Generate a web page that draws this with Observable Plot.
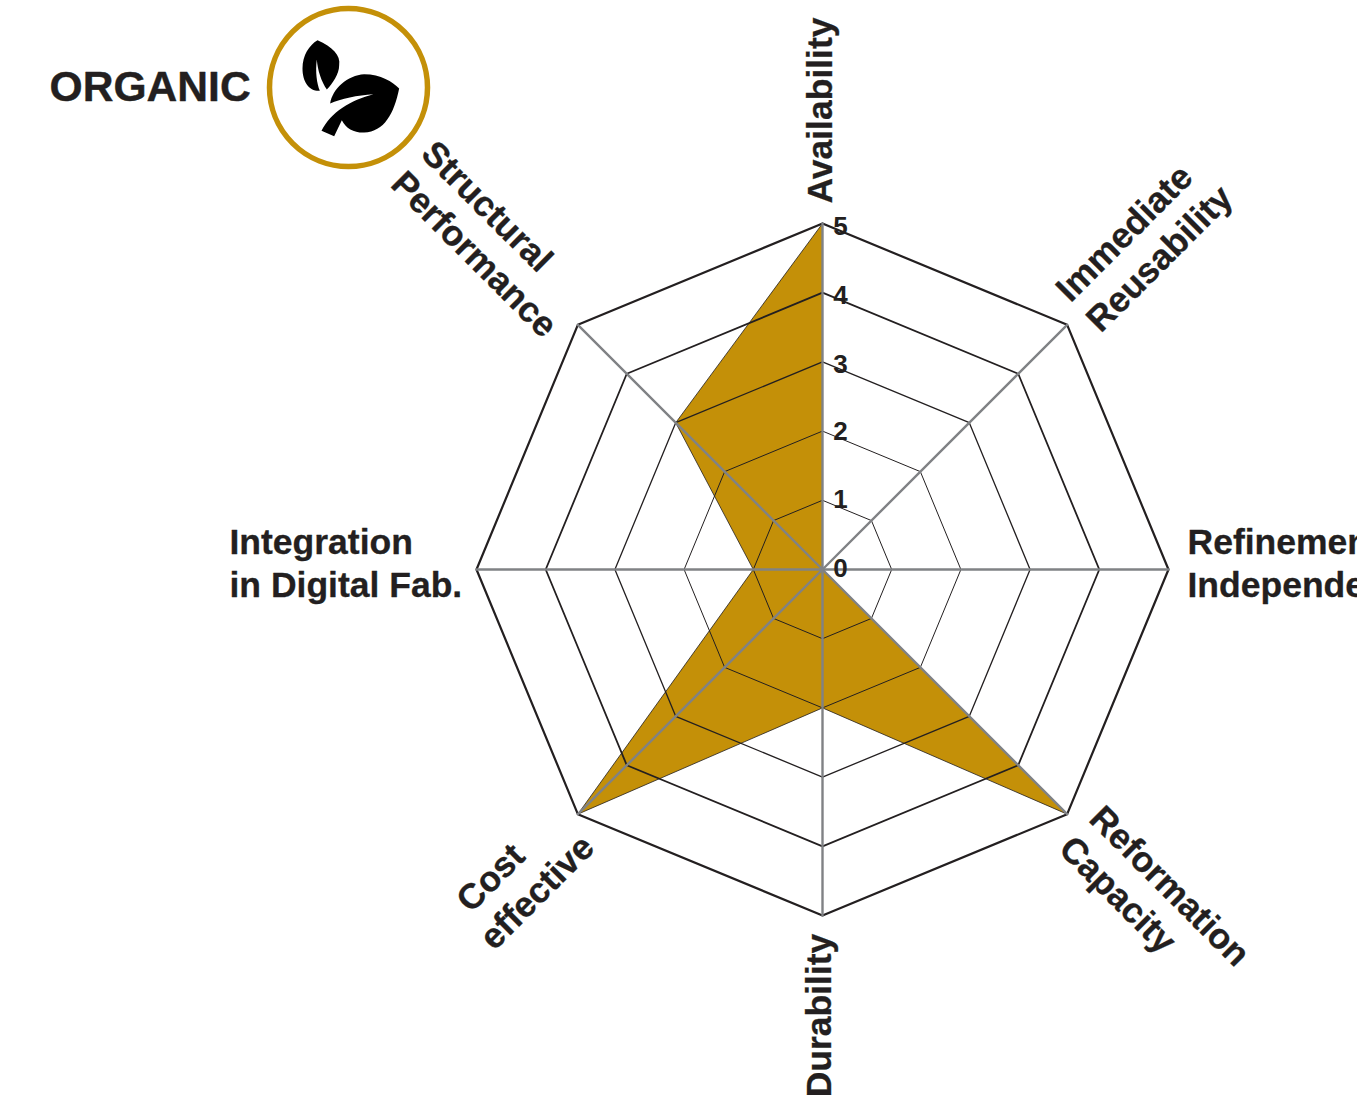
<!DOCTYPE html>
<html><head><meta charset="utf-8">
<script src="https://cdn.jsdelivr.net/npm/d3@7"></script>
<script src="https://cdn.jsdelivr.net/npm/@observablehq/plot@0.6"></script>
<style>html,body{margin:0;padding:0;background:#fff;overflow:hidden}svg{display:block}</style>
</head><body><div id="chart"></div>
<script>
const criteria = ["Availability","Immediate\nReusability","Refinement\nIndependence","Reformation\nCapacity","Durability","Cost\neffective","Integration\nin Digital Fab.","Structural\nPerformance"];
const scores = [5,0,0,5,2,5,1,3];
const ringLevels = [1,2,3,4,5];
const tickLabels = [0,1,2,3,4,5];
const title = "ORGANIC";

const W=1357,H=1115,cx=822,cy=569,unit=69.2;
const FONT='"Liberation Sans",Arial,sans-serif', INK="#231f20", GOLD="#c49008", SPOKE="#808285";
const polar=(i,r)=>({x:r*Math.sin(i*Math.PI/4),y:r*Math.cos(i*Math.PI/4)});
const ring=r=>[...criteria.keys(),0].map(i=>polar(i,r));
const shape=[...criteria.keys(),0].map(i=>polar(i,scores[i]));
const ringWidth={1:1,2:1,3:1.3,4:1.8,5:2.2};
const tickNudge=[-1,-1,1,3,3,3];

// label placement: [dx, dy, rotate, textAnchor, per-line shift along the text]
const LINE_GAP=43, LINE_DROP=3;
const labelPlace=[
 [817,110,-90,"middle",[0]],
 [1075,308,-45,"start",[0,0]],
 [1187,561,0,"start",[0,0]],
 [1082,825,45,"start",[0,0]],
 [816.5,1015,-90,"middle",[0]],
 [472,922,-45,"start",[5,-5]],
 [229,561,0,"start",[0,0]],
 [414,160,45,"start",[0,0]]
];
const labelMarks=criteria.flatMap((c,i)=>{
 const [dx,dy,rotate,textAnchor,shift]=labelPlace[i];
 const lines=c.split("\n"),a=rotate*Math.PI/180;
 return lines.map((line,j)=>{
  const n=(j-(lines.length-1)/2)*LINE_GAP+LINE_DROP,s=shift[j];
  return Plot.text([line],{text:d=>d,frameAnchor:"top-left",
   dx:dx+s*Math.cos(a)-n*Math.sin(a),dy:dy+s*Math.sin(a)+n*Math.cos(a),
   rotate,textAnchor,lineAnchor:"middle",fontSize:35.5,fontWeight:700,fontFamily:FONT,fill:INK,stroke:INK,strokeWidth:0.3});
 });
});

// leaf icon, relative to the badge centre
const leaves={draw(c){
 const k=1/3,ox=953,oy=262,X=v=>(v-ox)*k,Y=v=>(v-oy)*k;
 const M=(a,b)=>c.moveTo(X(a),Y(b)),L=(a,b)=>c.lineTo(X(a),Y(b)),
  B=(a,b,d,e,f,g)=>c.bezierCurveTo(X(a),Y(b),X(d),Y(e),X(f),Y(g));
 M(860,120);B(905,140,930,165,925,195);B(925,222,905,250,888,268);B(872,245,860,210,858,178);
 B(853,215,858,250,867,272);B(835,274,815,245,815,205);B(815,165,835,135,860,120);c.closePath();
 M(898,310);B(905,265,950,225,1000,222);B(1050,222,1085,245,1105,265);B(1090,340,1060,395,1000,397);
 B(970,398,945,385,933,360);L(910,408);L(872,392);B(900,335,960,300,1028,282);B(980,285,930,295,898,310);c.closePath();
}};

const plot=Plot.plot({
 width:W,height:H,margin:0,
 style:{background:"#fff",overflow:"hidden"},
 x:{domain:[-cx/unit,(W-cx)/unit],range:[0,W],axis:null},
 y:{domain:[-(H-cy)/unit,cy/unit],range:[H,0],axis:null},
 marks:[
  Plot.line(shape,{x:"x",y:"y",fill:GOLD,stroke:INK,strokeWidth:0.8,curve:"linear-closed"}),
  ...ringLevels.map(r=>Plot.line(ring(r),{x:"x",y:"y",stroke:INK,strokeWidth:ringWidth[r],strokeLinejoin:"miter"})),
  ...criteria.map((c,i)=>Plot.line([polar(i,0),polar(i,5)],{x:"x",y:"y",stroke:SPOKE,strokeWidth:2.4})),
  ...tickLabels.map((t,i)=>Plot.text([t],{x:()=>0,y:d=>d,text:d=>String(d),dx:18,dy:tickNudge[i],fontSize:26,fontWeight:700,fontFamily:FONT,fill:INK})),
  ...labelMarks,
  Plot.text([title],{text:d=>d,frameAnchor:"top-left",dx:49,dy:87,textAnchor:"start",lineAnchor:"middle",fontSize:42.6,fontWeight:700,fontFamily:FONT,fill:INK,stroke:INK,strokeWidth:0.4}),
  Plot.dot([0],{frameAnchor:"top-left",dx:348,dy:87,r:79,stroke:GOLD,strokeWidth:5.5,fill:"none"}),
  Plot.dot([0],{frameAnchor:"top-left",dx:348,dy:87,r:30,symbol:leaves,fill:"#000",stroke:"none"})
 ]
});
document.getElementById("chart").appendChild(plot);
</script></body></html>
